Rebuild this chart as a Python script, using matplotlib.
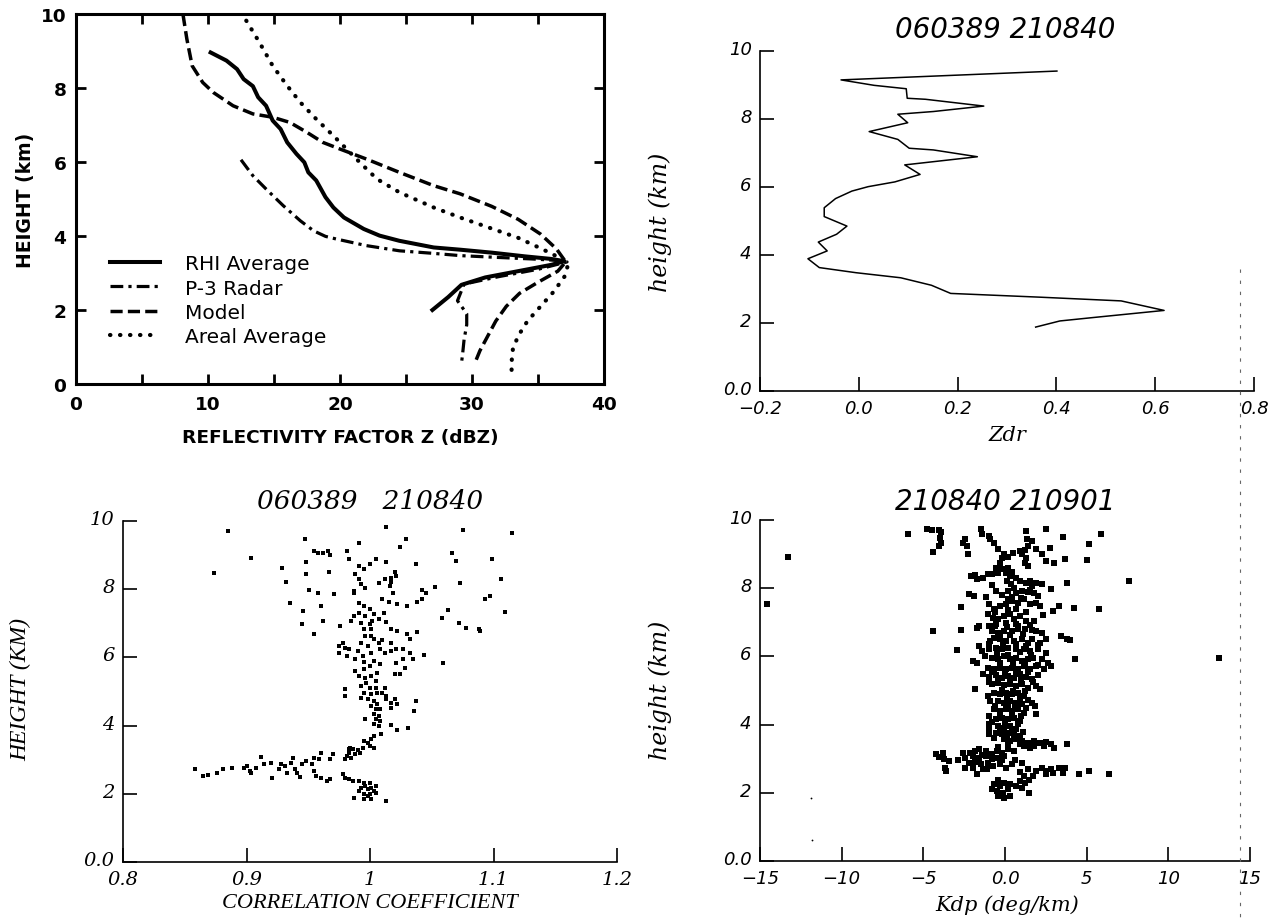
import numpy as np
import matplotlib
matplotlib.use("Agg")
import matplotlib.pyplot as plt
from matplotlib.ticker import MultipleLocator
from matplotlib.transforms import ScaledTranslation
from matplotlib.lines import Line2D

# ---- Panel (a): reflectivity profiles (dBZ, km) ----
rhi_z = [10.2, 11.4, 12.2, 12.7, 13.4, 13.8, 14.4, 14.9, 15.5, 16.0, 16.7, 17.3, 17.6, 18.2,
         18.9, 19.5, 20.3, 21.8, 23.0, 24.5, 27.1, 29.1, 31.5, 34.0, 36.0, 37.0, 36.0, 33.5,
         31.0, 29.2, 28.2, 27.0]
rhi_h = [8.96, 8.74, 8.51, 8.24, 8.05, 7.75, 7.52, 7.12, 6.89, 6.53, 6.22, 5.99, 5.72, 5.50,
         5.05, 4.77, 4.50, 4.19, 4.01, 3.87, 3.69, 3.63, 3.55, 3.45, 3.38, 3.32, 3.22, 3.05,
         2.88, 2.68, 2.35, 2.00]
p3_z = [12.5, 13.4, 14.4, 15.7, 17.0, 18.0, 18.9, 19.7, 22.0, 24.5, 27.1, 29.1, 32.0, 34.5,
        36.5, 37.2, 35.0, 32.0, 29.4, 28.9, 29.6, 29.6, 29.4, 29.3, 29.2]
p3_h = [6.06, 5.63, 5.27, 4.82, 4.41, 4.14, 3.99, 3.92, 3.74, 3.60, 3.53, 3.47, 3.42, 3.38,
        3.34, 3.30, 3.10, 2.90, 2.70, 2.25, 1.90, 1.60, 1.20, 0.85, 0.55]
model_z = [8.1, 8.4, 8.8, 9.6, 10.4, 11.9, 13.4, 14.9, 16.2, 17.5, 18.7, 20.0, 22.0, 24.5,
           27.1, 29.1, 31.5, 33.5, 35.2, 36.4, 37.1, 36.5, 35.0, 33.6, 32.6, 31.8, 31.2,
           30.6, 30.2]
model_h = [10.0, 9.32, 8.6, 8.15, 7.88, 7.52, 7.30, 7.21, 7.07, 6.80, 6.53, 6.35, 6.08, 5.72,
           5.36, 5.14, 4.80, 4.45, 4.05, 3.65, 3.30, 3.05, 2.75, 2.45, 2.10, 1.70, 1.30,
           0.90, 0.55]
areal_z = [12.9, 13.9, 14.9, 16.0, 17.0, 18.2, 19.5, 20.5, 21.5, 22.8, 24.5, 27.1, 29.1,
           31.5, 33.5, 35.3, 36.7, 37.3, 37.0, 36.2, 35.2, 34.2, 33.5, 33.1, 33.0, 33.0]
areal_h = [9.82, 9.23, 8.6, 8.06, 7.61, 7.16, 6.71, 6.35, 5.99, 5.54, 5.18, 4.77, 4.50,
           4.20, 3.95, 3.65, 3.40, 3.25, 2.90, 2.50, 2.10, 1.70, 1.30, 0.95, 0.60, 0.35]
legend_labels = ["RHI Average", "P-3 Radar", "Model", "Areal Average"]

# ---- Panel (b): Zdr profile ----
zdr = [0.401, -0.036, 0.031, 0.096, 0.098, 0.135, 0.253, 0.151, 0.079, 0.099, 0.021, 0.079,
       0.102, 0.151, 0.240, 0.093, 0.124, 0.073, 0.019, -0.014, -0.047, -0.070, -0.070,
       -0.024, -0.045, -0.082, -0.064, -0.103, -0.080, -0.006, 0.085, 0.147, 0.186, 0.366,
       0.531, 0.618, 0.474, 0.407, 0.358]
zdr_h = [9.41, 9.15, 8.99, 8.89, 8.61, 8.58, 8.38, 8.22, 8.14, 7.89, 7.63, 7.40, 7.14, 7.09,
         6.89, 6.65, 6.37, 6.15, 6.01, 5.88, 5.66, 5.39, 5.13, 4.85, 4.61, 4.38, 4.12, 3.89,
         3.63, 3.48, 3.33, 3.11, 2.87, 2.76, 2.65, 2.37, 2.16, 2.06, 1.88]

# ---- Panel (c): correlation coefficient vs height ----
rho_pts = [
    (0.885, 9.71), (1.013, 9.83), (1.075, 9.74), (1.115, 9.64), (0.947, 9.48), (1.029, 9.48),
    (0.991, 9.35), (1.024, 9.25), (0.904, 8.92), (0.955, 9.13), (0.962, 9.07), (0.966, 9.12),
    (0.958, 9.05), (0.968, 9.00), (0.981, 9.12), (0.983, 8.88), (0.948, 8.80), (1.066, 9.07),
    (1.070, 8.83), (1.099, 8.88), (0.929, 8.61), (0.948, 8.44), (0.967, 8.50), (0.874, 8.47),
    (0.932, 8.22), (1.037, 8.73), (1.106, 8.29), (1.073, 8.19), (1.053, 8.07), (1.042, 7.98),
    (1.045, 7.88), (1.097, 7.80), (1.093, 7.72), (0.935, 7.60), (0.951, 7.99), (0.958, 7.90),
    (0.971, 7.85), (0.960, 7.51), (0.946, 7.36), (0.962, 7.07), (0.945, 6.97), (0.955, 6.68),
    (0.976, 6.93), (1.063, 7.38), (1.058, 7.17), (1.109, 7.33), (1.072, 7.02), (1.078, 6.87),
    (1.088, 6.84), (1.089, 6.77), (1.059, 5.85), (1.044, 6.06),
    (0.991, 8.68), (0.995, 8.58), (1.000, 8.73), (1.005, 8.88), (1.013, 8.80), (0.988, 8.44),
    (0.991, 8.31), (0.993, 8.14), (0.987, 7.95), (0.987, 7.88), (0.996, 8.04), (1.007, 8.19),
    (1.012, 8.29), (1.017, 8.34), (1.020, 8.49), (1.021, 8.39), (1.017, 8.21), (1.016, 8.09),
    (1.019, 7.90), (1.010, 7.70), (1.015, 7.62), (1.022, 7.56), (1.030, 7.51), (1.038, 7.62),
    (1.042, 7.72), (0.991, 7.60), (0.995, 7.51), (1.000, 7.41), (0.991, 7.31), (0.996, 7.21),
    (1.003, 7.26), (1.007, 7.12), (1.011, 7.31), (0.987, 7.21), (0.985, 7.07), (0.993, 7.02),
    (1.000, 6.97), (1.002, 7.07), (1.013, 7.04), (1.017, 6.82), (1.022, 6.77), (1.001, 6.82),
    (0.995, 6.82), (0.996, 6.63), (1.001, 6.63), (1.003, 6.53), (1.010, 6.51), (1.030, 6.68),
    (1.038, 6.74), (1.032, 6.53), (1.017, 6.43), (1.007, 6.41), (0.998, 6.33), (0.993, 6.41),
    (0.990, 6.19), (0.978, 6.41), (0.980, 6.29), (0.975, 6.33), (0.983, 6.26), (0.975, 6.14),
    (0.981, 6.04), (0.988, 5.94), (0.994, 6.04), (1.001, 6.14), (1.008, 6.24), (1.012, 6.14),
    (1.017, 6.19), (1.021, 6.24), (1.027, 6.26), (1.032, 6.14), (1.035, 5.94), (1.027, 5.94),
    (1.021, 5.83), (1.028, 5.70), (1.020, 5.50), (1.024, 5.50), (0.995, 5.87), (1.003, 5.89),
    (1.008, 5.80), (1.000, 5.75), (0.995, 5.65), (0.988, 5.60), (0.991, 5.45), (0.996, 5.41),
    (1.001, 5.45), (1.006, 5.55), (1.005, 5.31), (0.997, 5.26), (0.993, 5.16), (1.000, 5.11),
    (1.005, 5.11), (0.995, 4.97), (1.001, 4.92), (1.006, 4.97), (1.012, 5.11), (1.010, 4.97),
    (1.013, 4.87), (0.993, 4.82), (0.998, 4.77), (1.003, 4.72), (1.006, 4.62), (1.001, 4.57),
    (1.005, 4.48), (1.008, 4.48), (1.013, 4.77), (1.017, 4.67), (1.020, 4.77), (1.022, 4.62),
    (1.017, 4.53), (0.980, 5.06), (0.980, 4.87), (1.037, 4.72), (1.036, 4.43), (1.003, 4.33),
    (1.007, 4.28), (1.005, 4.18), (1.008, 4.13), (0.996, 4.18), (1.003, 4.04), (1.007, 3.99),
    (1.017, 4.01), (1.022, 3.87), (1.031, 3.94), (1.009, 3.74), (1.003, 3.70),
    (1.001, 3.60), (0.998, 3.50), (0.995, 3.55), (1.000, 3.40), (1.003, 3.35), (0.994, 3.35),
    (0.990, 3.28), (0.986, 3.30), (0.984, 3.35), (0.992, 3.21), (0.988, 3.16), (0.983, 3.21),
    (0.981, 3.11), (0.985, 3.06), (0.980, 3.01), (0.983, 3.30),
    (0.970, 3.16), (0.968, 3.01), (0.960, 3.21), (0.959, 3.01), (0.955, 3.06), (0.953, 2.86),
    (0.948, 2.96), (0.945, 2.86), (0.938, 3.06), (0.936, 2.91), (0.931, 2.82), (0.928, 2.86),
    (0.926, 2.72), (0.920, 2.91), (0.914, 2.86), (0.912, 3.09), (0.908, 2.77), (0.903, 2.67),
    (0.900, 2.82), (0.898, 2.77), (0.888, 2.77), (0.881, 2.72), (0.876, 2.62), (0.869, 2.54),
    (0.865, 2.52), (0.858, 2.72), (0.904, 2.62), (0.921, 2.45), (0.933, 2.62), (0.939, 2.72),
    (0.941, 2.62), (0.943, 2.50), (0.955, 2.67), (0.956, 2.52), (0.960, 2.47), (0.965, 2.38),
    (0.968, 2.42), (0.978, 2.57), (0.980, 2.47), (0.983, 2.42), (0.986, 2.38), (0.991, 2.38),
    (0.995, 2.33), (1.000, 2.33),
    (0.996, 2.23), (0.993, 2.18), (0.998, 2.13), (1.001, 2.18), (1.005, 2.23), (1.003, 2.08),
    (0.991, 2.08), (0.995, 1.98), (1.000, 1.98), (1.005, 2.03), (0.987, 1.89), (0.995, 1.86),
    (1.001, 1.84), (1.013, 1.79), (0.998, 1.94),
]

# ---- Panel (d): Kdp vs height ----
kdp_pts = [
    (-5.92, 9.58), (-4.80, 9.75), (-4.48, 9.71), (-4.05, 9.71), (-3.93, 9.65), (-4.00, 9.48),
    (-3.93, 9.34), (-4.05, 9.24), (-4.43, 9.06), (-2.44, 9.45), (-2.56, 9.34), (-2.31, 9.24),
    (-2.24, 8.99), (-1.44, 9.75), (-1.39, 9.58), (-1.00, 9.53), (-0.90, 9.43), (-0.70, 9.34),
    (1.29, 9.68), (1.34, 9.45), (1.67, 9.38), (1.42, 9.24), (1.24, 9.12), (2.54, 9.75),
    (3.58, 9.51), (5.15, 9.29), (5.85, 9.58), (-0.40, 9.14), (-0.07, 8.99), (0.17, 8.92),
    (0.50, 9.04), (1.04, 8.99), (1.29, 8.90), (1.92, 9.14), (2.29, 8.99), (2.74, 9.19),
    (2.54, 8.80), (2.99, 8.73), (3.66, 8.85), (5.02, 8.83), (1.24, 8.75), (1.42, 8.65),
    (-13.26, 8.92), (-14.55, 7.53), (7.59, 8.21), (13.1, 5.96),
    (-0.32, 8.75), (-0.57, 8.60), (-0.20, 8.55), (0.17, 8.60), (0.42, 8.47), (0.05, 8.46),
    (-0.45, 8.46), (-0.82, 8.41), (0.30, 8.36), (-2.06, 8.36), (-1.82, 8.38), (-1.69, 8.26),
    (-1.32, 8.31), (-1.07, 8.41), (0.92, 8.21), (1.29, 8.16), (1.54, 8.21), (1.67, 8.06),
    (1.92, 8.14), (2.29, 8.11), (2.84, 7.97), (3.78, 8.14), (0.35, 8.11), (0.55, 8.02),
    (0.17, 7.92), (0.67, 7.87), (1.04, 7.92), (1.42, 7.89), (1.79, 7.85), (2.04, 7.77),
    (-2.19, 7.82), (-1.89, 7.77), (-1.19, 7.75), (-0.57, 7.92), (-2.69, 7.45), (-1.00, 7.53),
    (-0.70, 7.38), (-0.32, 7.48), (0.05, 7.53), (0.42, 7.62), (0.80, 7.58), (0.17, 7.67),
    (1.17, 7.67), (1.54, 7.53), (1.92, 7.58), (2.16, 7.48), (2.91, 7.33), (3.28, 7.48),
    (4.23, 7.43), (5.77, 7.38), (-1.07, 7.23), (-0.75, 7.14), (-0.45, 7.09), (-0.07, 7.18),
    (0.30, 7.23), (0.55, 7.09), (0.92, 7.18), (1.29, 7.04), (0.67, 6.94), (0.05, 6.99),
    (-0.57, 6.94), (-1.00, 6.89), (1.79, 7.04), (-1.74, 6.84), (-1.57, 6.89), (-2.69, 6.77),
    (-4.38, 6.74), (-0.82, 6.74), (-0.45, 6.70), (-0.07, 6.74), (0.42, 6.74), (0.80, 6.79),
    (1.24, 6.81), (1.67, 6.77), (1.92, 6.74), (2.29, 6.70), (2.54, 6.50), (3.41, 6.60),
    (3.78, 6.50), (3.98, 6.47), (-0.70, 6.55), (-0.32, 6.50), (0.05, 6.45), (0.55, 6.45),
    (1.04, 6.50), (1.42, 6.40), (1.67, 6.50), (2.16, 6.40), (-0.95, 6.35), (-1.00, 6.21),
    (-0.57, 6.26), (-0.20, 6.21), (0.17, 6.26), (0.67, 6.21), (1.17, 6.23), (1.54, 6.16),
    (1.99, 6.21), (2.54, 6.11), (-2.94, 6.19), (-1.57, 6.30), (-1.39, 6.16), (-1.94, 5.87),
    (-1.69, 5.82), (-0.82, 5.96), (-0.45, 5.91), (-0.07, 6.01), (0.30, 5.91), (0.67, 5.96),
    (1.04, 5.87), (1.42, 5.91), (1.74, 5.96), (2.29, 5.91), (2.66, 5.82), (4.28, 5.93),
    (-1.07, 5.67), (-0.70, 5.62), (-0.32, 5.67), (0.05, 5.62), (0.42, 5.67), (0.80, 5.62),
    (1.17, 5.72), (1.54, 5.62), (1.92, 5.72), (2.41, 5.62), (2.79, 5.72), (-1.32, 5.47),
    (-0.95, 5.41), (-0.57, 5.44), (-0.20, 5.38), (0.17, 5.43), (0.55, 5.38), (0.92, 5.47),
    (1.29, 5.41), (1.67, 5.33), (2.04, 5.44), (-0.82, 5.18), (-0.45, 5.23), (-0.07, 5.15),
    (0.30, 5.18), (0.67, 5.13), (1.04, 5.18), (1.42, 5.08), (1.92, 5.13), (2.16, 5.05),
    (-1.82, 5.05), (-0.70, 4.94), (-0.32, 4.89), (0.05, 4.94), (0.42, 4.89), (0.80, 4.94),
    (1.17, 4.84), (-1.07, 4.84), (-0.45, 4.69), (-0.07, 4.64), (0.30, 4.69), (0.67, 4.64),
    (1.04, 4.59), (1.67, 4.64), (1.84, 4.55), (-0.70, 4.45), (-0.32, 4.40), (0.05, 4.45),
    (0.42, 4.40), (0.80, 4.45), (1.17, 4.35), (1.92, 4.30), (-0.95, 4.25), (-0.57, 4.15),
    (-0.20, 4.20), (0.17, 4.15), (0.55, 4.20), (0.92, 4.11), (-0.95, 4.01), (-0.45, 3.96),
    (-0.07, 3.91), (0.30, 3.96), (0.67, 3.88), (-1.00, 3.86), (-0.57, 3.76), (-0.20, 3.71),
    (0.17, 3.76), (0.55, 3.69), (-0.95, 3.71), (0.92, 3.67), (-0.07, 3.57), (0.30, 3.52),
    (0.67, 3.57), (1.04, 3.52), (1.42, 3.47), (1.79, 3.52), (2.16, 3.47), (2.54, 3.49),
    (2.79, 3.42), (3.03, 3.32), (3.78, 3.42), (1.17, 3.37), (1.54, 3.32), (0.17, 3.27),
    (0.55, 3.23), (-0.20, 3.18), (-0.50, 3.23), (-0.82, 3.13), (-1.19, 3.23), (-1.57, 3.27),
    (-1.82, 3.23), (-2.14, 3.18), (-2.56, 3.18), (-4.23, 3.13), (-3.81, 3.18), (-4.05, 3.06),
    (-3.73, 2.98), (-3.43, 2.93), (-3.63, 2.64), (-3.68, 2.74), (-2.44, 3.03), (-1.94, 3.08),
    (-1.57, 3.03), (-1.19, 3.08), (-0.82, 2.98), (-0.45, 3.03), (-0.07, 3.08), (-2.19, 2.88),
    (-1.82, 2.90), (-1.49, 2.83), (-1.07, 2.86), (-0.75, 2.79), (-0.32, 2.83), (-2.44, 2.74),
    (-1.94, 2.74), (-1.69, 2.54), (-1.32, 2.69), (0.05, 2.74), (0.42, 2.83), (1.04, 2.88),
    (1.42, 2.69), (1.92, 2.64), (2.29, 2.74), (2.54, 2.64), (2.79, 2.69), (3.28, 2.74),
    (3.53, 2.59), (3.66, 2.74), (4.53, 2.54), (5.15, 2.64), (6.39, 2.54), (2.54, 2.54),
    (2.91, 2.59), (1.17, 2.49), (1.49, 2.39), (0.92, 2.35), (1.24, 2.30), (0.67, 2.20),
    (1.04, 2.15), (-0.45, 2.39), (-0.70, 2.25), (-0.32, 2.20), (-0.07, 2.30), (-0.82, 2.10),
    (-0.50, 2.05), (-0.15, 2.00), (0.17, 2.10), (0.30, 2.25), (-0.45, 1.91), (-0.07, 1.86),
    (0.30, 1.91), (1.49, 2.00),
    # dense core, read coarsely
    (-0.6, 6.90), (0.1, 6.85), (0.8, 6.88), (1.5, 6.92), (-0.3, 6.60), (0.3, 6.62),
    (1.1, 6.65), (-0.9, 6.45), (-0.1, 6.38), (0.7, 6.35), (1.3, 6.30), (2.0, 6.33),
    (-0.5, 6.10), (0.2, 6.05), (0.9, 6.12), (1.6, 6.05), (-1.2, 6.00), (-0.3, 5.80),
    (0.5, 5.78), (1.2, 5.80), (2.0, 5.75), (-0.8, 5.55), (0.0, 5.52), (0.7, 5.50),
    (1.4, 5.55), (-0.4, 5.30), (0.3, 5.28), (1.0, 5.30), (1.7, 5.25), (-1.0, 5.25),
    (-0.2, 5.02), (0.5, 5.00), (1.2, 4.98), (-0.9, 4.70), (0.1, 4.78), (0.9, 4.75),
    (1.4, 4.72), (-0.6, 4.55), (0.2, 4.52), (0.6, 4.55), (1.3, 4.50), (-0.3, 4.30),
    (0.4, 4.28), (1.0, 4.25), (-0.8, 4.08), (0.0, 4.05), (0.8, 4.02), (-0.3, 3.82),
    (0.4, 3.80), (1.1, 3.78), (-0.7, 3.60), (0.1, 3.62), (0.8, 3.64), (0.2, 3.40),
    (0.9, 3.42), (1.8, 3.38), (2.4, 3.36), (-0.4, 3.35), (-1.4, 3.10), (-0.2, 2.95),
    (0.6, 2.95), (-2.9, 2.95), (-1.1, 2.70), (0.9, 2.60), (1.7, 2.50), (-0.2, 7.80),
    (0.4, 7.75), (1.0, 7.70), (1.5, 7.95), (-0.8, 8.10), (0.1, 8.20), (0.7, 8.30),
    (-0.2, 8.90), (0.9, 9.10), (-0.6, 7.30), (0.2, 7.35), (0.7, 7.40), (1.3, 7.30),
    (2.3, 7.20),
]
kdp_specks = [(-11.9, 1.85), (-11.8, 0.62)]

W, H = 1272, 920
fig = plt.figure(figsize=(W / 100, H / 100), dpi=100)

SANS = "DejaVu Sans"
SERIF = "Liberation Serif"
SERIF2 = "DejaVu Serif"


def px_axes(x0, x1, y0, y1):
    return fig.add_axes([x0 / W, 1 - y1 / H, (x1 - x0) / W, (y1 - y0) / H])


def ftext(x, y, s, **kw):
    fig.text(x / W, 1 - y / H, s, ha="center", va="center", **kw)


def raise_ylabels(ax, dy=4):
    off = ScaledTranslation(0, dy / 100, fig.dpi_scale_trans)
    for lab in ax.get_yticklabels():
        lab.set_transform(lab.get_transform() + off)


# ===== top left =====
ax = px_axes(76, 604, 15, 385)
ax.plot(rhi_z, rhi_h, color="k", lw=2.9, label=legend_labels[0])
ax.plot(p3_z, p3_h, color="k", lw=2.3, linestyle=(0, (4, 1.6, 1, 1.6)), label=legend_labels[1])
ax.plot(model_z, model_h, color="k", lw=2.5, linestyle=(0, (3.5, 1.5)), label=legend_labels[2])
ax.plot(areal_z, areal_h, color="k", lw=3.0, linestyle=(0, (0.1, 2.3)),
        dash_capstyle="round", label=legend_labels[3])
ax.set_xlim(0, 40)
ax.set_ylim(0, 10)
ax.xaxis.set_major_locator(MultipleLocator(10))
ax.xaxis.set_minor_locator(MultipleLocator(5))
ax.yaxis.set_major_locator(MultipleLocator(2))
for s in ax.spines.values():
    s.set_linewidth(2.2)
ax.tick_params(which="both", direction="in", top=True, right=True, length=7, width=2)
ax.tick_params(axis="x", pad=8)
ax.tick_params(axis="y", pad=7)
for lab in ax.get_xticklabels() + ax.get_yticklabels():
    lab.set_fontfamily(SANS)
    lab.set_fontweight("bold")
    lab.set_fontsize(13.3)
ax.legend(loc="upper left", bbox_to_anchor=(0.064, 0.35), frameon=False,
          prop={"family": SANS, "size": 14.5}, handlelength=2.5, handletextpad=1.25,
          labelspacing=0.25, borderpad=0, borderaxespad=0)
ftext(340, 438, "REFLECTIVITY FACTOR Z (dBZ)", family=SANS, weight="bold", fontsize=13.3)
ftext(25, 200, "HEIGHT (km)", family=SANS, weight="bold", fontsize=13.5, rotation=90)


def style_profile(ax, xt, xl, family, size):
    ax.spines["top"].set_visible(False)
    ax.spines["right"].set_visible(False)
    for s in ("left", "bottom"):
        ax.spines[s].set_linewidth(1.2)
    ax.set_yticks([0, 2, 4, 6, 8, 10], ["0.0", "2", "4", "6", "8", "10"])
    ax.set_xticks(xt, xl)
    ax.set_ylim(0, 10)
    ax.set_xlim(xt[0], xt[-1])
    ax.tick_params(direction="in", length=10, width=1.2, pad=6)
    for lab in ax.get_xticklabels() + ax.get_yticklabels():
        lab.set_fontfamily(family)
        lab.set_fontstyle("italic")
        lab.set_fontsize(size)
    raise_ylabels(ax)


# ===== top right =====
ax2 = px_axes(760, 1254, 52, 392)
ax2.plot(zdr, zdr_h, color="k", lw=1.1)
style_profile(ax2, [-0.2, 0.0, 0.2, 0.4, 0.6, 0.8],
              ["\u22120.2", "0.0", "0.2", "0.4", "0.6", "0.8"], SANS, 13)
ftext(1005, 30, "060389 210840", family=SANS, style="italic", fontsize=20)
ftext(660, 222, "height (km)", family=SERIF2, style="italic", fontsize=17, rotation=90)
ftext(1007, 436, "Zdr", family=SERIF2, style="italic", fontsize=15)

# ===== bottom left =====
ax3 = px_axes(123, 617, 522, 863)
rho = np.array(rho_pts)
ax3.plot(rho[:, 0], rho[:, 1], "s", color="k", ms=2.6, mew=0)
style_profile(ax3, [0.8, 0.9, 1.0, 1.1, 1.2], ["0.8", "0.9", "1", "1.1", "1.2"], SERIF2, 14)
ftext(370, 502, "060389   210840", family=SERIF2, style="italic", fontsize=19)
ftext(21, 690, "HEIGHT (KM)", family=SERIF, style="italic", fontsize=17, rotation=90)
ftext(370, 904, "CORRELATION COEFFICIENT", family=SERIF, style="italic", fontsize=16)

# ===== bottom right =====
ax4 = px_axes(760, 1250, 521, 862)
kdp = np.array(kdp_pts)
ax4.plot(kdp[:, 0], kdp[:, 1], "s", color="k", ms=3.8, mew=0)
spk = np.array(kdp_specks)
ax4.plot(spk[:, 0], spk[:, 1], "o", color="k", ms=1.3, mew=0)
style_profile(ax4, [-15, -10, -5, 0, 5, 10, 15],
              ["\u221215", "\u221210", "\u22125", "0.0", "5", "10", "15"], SANS, 13)
ftext(1005, 502, "210840 210901", family=SANS, style="italic", fontsize=20)
ftext(660, 690, "height (km)", family=SERIF2, style="italic", fontsize=17, rotation=90)
ftext(1007, 905, "Kdp (deg/km)", family=SERIF2, style="italic", fontsize=15)

# scan streak down the right side
fig.add_artist(Line2D([1240 / W, 1240 / W], [1 - 270 / H, 0], transform=fig.transFigure,
                      color="0.4", lw=0.8, linestyle=(0, (3, 7))))

fig.savefig("out.png", dpi=100, facecolor="white")
